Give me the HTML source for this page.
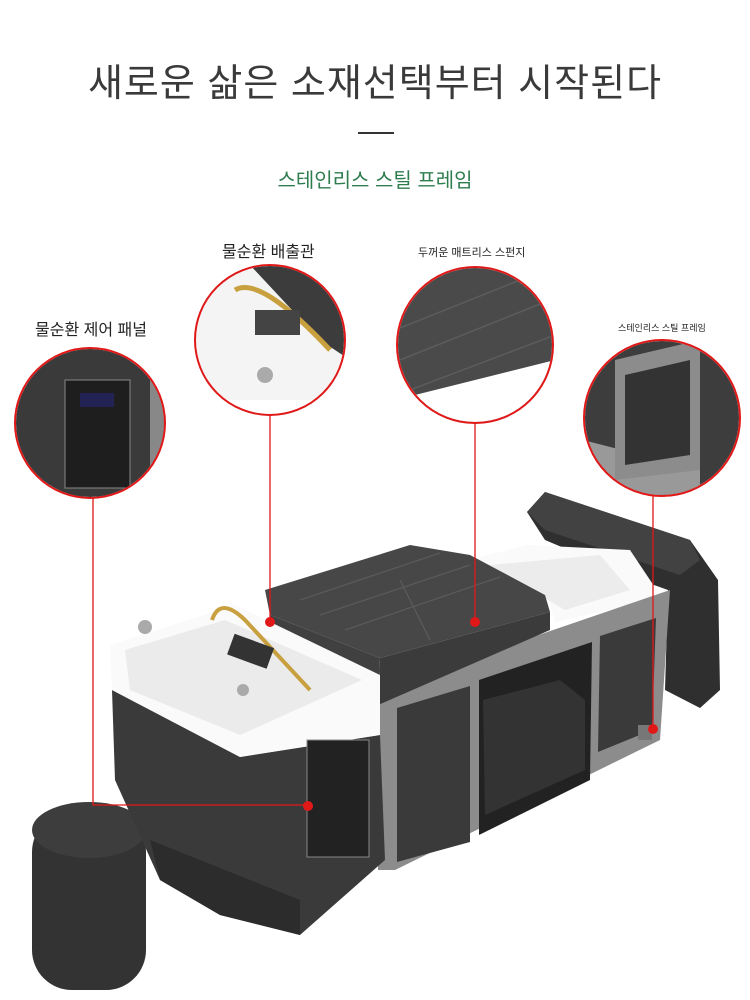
<!DOCTYPE html>
<html><head><meta charset="utf-8"><style>
html,body{margin:0;padding:0;background:#fff;}
body{width:750px;height:1000px;position:relative;overflow:hidden;font-family:"Liberation Sans","Noto Sans CJK KR",sans-serif;}
.t{position:absolute;white-space:nowrap;}
</style></head><body>
<div class="t" style="left:0;width:750px;text-align:center;top:52px;font-size:38px;color:#3a3a3a;letter-spacing:1px;">새로운 삶은 소재선택부터 시작된다</div>
<div style="position:absolute;left:358px;top:132px;width:36px;height:2px;background:#333"></div>
<div class="t" style="left:0;width:750px;text-align:center;top:164px;font-size:20px;color:#2e7d4f;">스테인리스 스틸 프레임</div>
<div class="t" style="left:222px;top:238px;font-size:16px;color:#222;">물순환 배출관</div>
<div class="t" style="left:418px;top:244px;font-size:11px;color:#222;">두꺼운 매트리스 스펀지</div>
<div class="t" style="left:35px;top:316px;font-size:16px;color:#222;">물순환 제어 패널</div>
<div class="t" style="left:618px;top:321px;font-size:9px;color:#222;">스테인리스 스틸 프레임</div>
<svg width="750" height="1000" style="position:absolute;left:0;top:0">
<defs>
<clipPath id="c1"><circle cx="90" cy="423" r="74"/></clipPath>
<clipPath id="c2"><circle cx="270" cy="340" r="74"/></clipPath>
<clipPath id="c3"><circle cx="475" cy="345" r="77"/></clipPath>
<clipPath id="c4"><circle cx="662" cy="418" r="77"/></clipPath>
</defs>
<!-- stool -->
<rect x="32" y="812" width="114" height="178" rx="40" fill="#333"/>
<ellipse cx="89" cy="830" rx="57" ry="28" fill="#3d3d3d"/>
<!-- headrest -->
<polygon points="527,512 545,492 690,540 718,580 720,690 700,708 665,690 668,590 640,580 545,540" fill="#2f2f2f"/>
<polygon points="527,512 545,492 690,540 700,560 680,575 545,530" fill="#424242"/>
<!-- right basin -->
<polygon points="468,560 528,545 630,550 662,598 555,622 548,598" fill="#fafafa"/>
<polygon points="490,565 600,555 630,590 565,610" fill="#ececec"/>
<!-- frame -->
<polygon points="378,690 670,590 660,740 395,870 378,870" fill="#8c8c8c"/>
<polygon points="397,708 470,686 470,842 397,862" fill="#3a3a3a"/>
<polygon points="479,680 592,642 590,780 479,835" fill="#222"/>
<polygon points="483,700 560,680 585,700 585,770 485,815" fill="#333"/>
<polygon points="600,636 656,618 652,730 598,752" fill="#3a3a3a"/>
<rect x="638" y="725" width="14" height="15" fill="#777"/>
<!-- middle cushion -->
<polygon points="265,590 410,545 470,555 545,595 550,612 380,658 270,615" fill="#474747"/>
<polygon points="380,658 550,612 550,630 378,705" fill="#3b3b3b"/>
<polygon points="270,615 380,658 378,705 265,640" fill="#404040"/>
<g stroke="#5a5a5a" stroke-width="1.3"><line x1="300" y1="600" x2="440" y2="553"/><line x1="320" y1="615" x2="470" y2="565"/><line x1="345" y1="630" x2="500" y2="577"/><line x1="430" y1="640" x2="400" y2="580"/></g>
<!-- left unit -->
<polygon points="112,690 240,757 380,735 385,860 300,935 220,915 160,880 115,780" fill="#3a3a3a"/>
<polygon points="150,840 300,900 300,935 220,915 160,880" fill="#2c2c2c"/>
<polygon points="110,645 235,605 380,675 380,735 240,757 112,690" fill="#fafafa"/>
<polygon points="125,650 225,620 362,680 240,735 130,690" fill="#ebebeb"/>
<circle cx="145" cy="627" r="7" fill="#aaa"/>
<circle cx="243" cy="690" r="6" fill="#aaa"/>
<path d="M212,620 Q220,596 245,620 L310,690" stroke="#c8a040" stroke-width="4" fill="none"/>
<rect x="230" y="640" width="42" height="22" fill="#333" transform="rotate(20 250 650)"/>
<rect x="307" y="740" width="62" height="117" fill="#222" stroke="#888"/>
<!-- circles -->
<g clip-path="url(#c1)"><rect x="10" y="340" width="160" height="170" fill="#3a3a3a"/><rect x="150" y="340" width="20" height="170" fill="#888"/><rect x="65" y="380" width="65" height="108" fill="#1e1e1e" stroke="#888"/><rect x="80" y="393" width="34" height="14" fill="#225"/></g>
<circle cx="90" cy="423" r="75" fill="none" stroke="#e01818" stroke-width="2"/>
<g clip-path="url(#c2)"><rect x="190" y="260" width="170" height="160" fill="#f4f4f4"/><polygon points="195,400 350,400 350,420 195,420" fill="#fff"/><polygon points="250,265 350,265 350,360 320,340" fill="#3c3c3c"/><path d="M235,290 Q260,275 330,350" stroke="#c8a040" stroke-width="5" fill="none"/><rect x="255" y="310" width="45" height="25" fill="#444"/><circle cx="265" cy="375" r="8" fill="#aaa"/></g>
<circle cx="270" cy="340" r="75" fill="none" stroke="#e01818" stroke-width="2"/>
<g clip-path="url(#c3)"><rect x="395" y="265" width="160" height="160" fill="#4a4a4a"/><g stroke="#5c5c5c" stroke-width="1.5"><line x1="395" y1="330" x2="520" y2="280"/><line x1="400" y1="360" x2="550" y2="300"/><line x1="410" y1="390" x2="555" y2="335"/></g><polygon points="395,400 555,360 555,425 395,425" fill="#fff"/></g>
<circle cx="475" cy="345" r="78" fill="none" stroke="#e01818" stroke-width="2"/>
<g clip-path="url(#c4)"><rect x="583" y="340" width="160" height="160" fill="#3d3d3d"/><polygon points="583,440 700,470 700,500 583,500" fill="#999"/><polygon points="615,360 700,340 700,470 615,480" fill="#8c8c8c"/><polygon points="625,375 690,360 690,455 625,465" fill="#333"/></g>
<circle cx="662" cy="418" r="78" fill="none" stroke="#e01818" stroke-width="2"/>
<!-- red lines -->
<g stroke="#e01818" stroke-width="1.3" fill="none"><polyline points="93,498 93,805 308,805"/><line x1="270" y1="415" x2="270" y2="622"/><line x1="475" y1="423" x2="475" y2="622"/><line x1="653" y1="496" x2="653" y2="728"/></g>
<g fill="#e01818"><circle cx="308" cy="806" r="5"/><circle cx="270" cy="622" r="5"/><circle cx="475" cy="622" r="5"/><circle cx="653" cy="729" r="5"/></g>
</svg>
</body></html>
